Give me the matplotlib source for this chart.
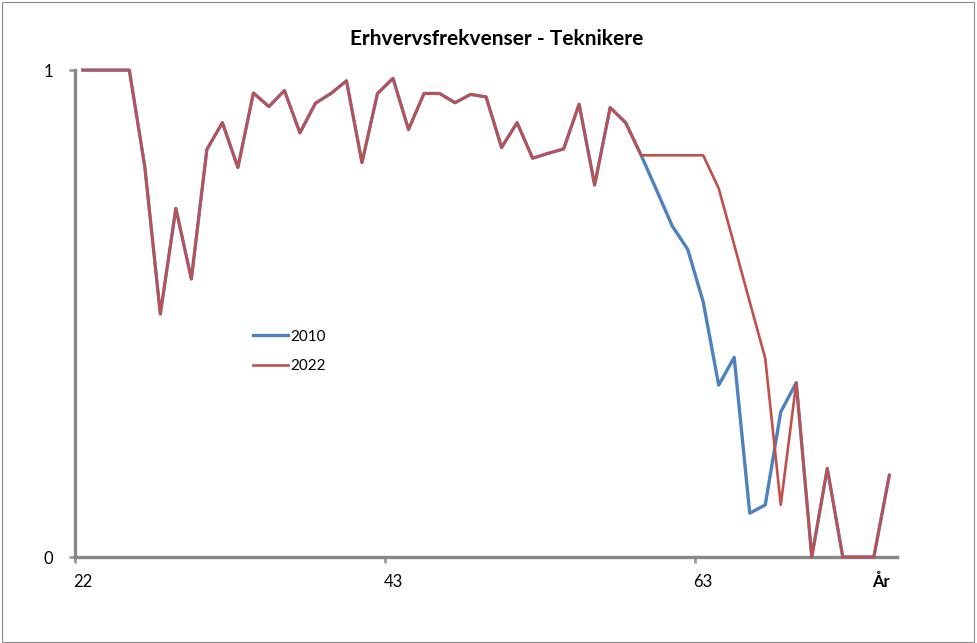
import matplotlib.pyplot as plt
from matplotlib.patches import Rectangle

plt.rcParams['font.family'] = ['Lato', 'DejaVu Sans']

# Alder-kategorier (53 stk), kun nogle har etiket
tick_pos = [0, 20, 40]
tick_labels = ['22', '43', '63']

y2010 = [1.0, 1.0, 1.0, 1.0, 0.801, 0.499, 0.716, 0.571, 0.837, 0.892,
         0.800, 0.953, 0.925, 0.958, 0.871, 0.932, 0.952, 0.978, 0.810, 0.952,
         0.983, 0.878, 0.952, 0.952, 0.933, 0.950, 0.945, 0.841, 0.892, 0.819,
         0.829, 0.838, 0.930, 0.764, 0.923, 0.892, 0.825, 0.753, 0.680, 0.632,
         0.524, 0.353, 0.410, 0.090, 0.107, 0.298, 0.358, 0.0, 0.182, 0.0,
         0.0, 0.0, 0.168]
y2022 = [1.0, 1.0, 1.0, 1.0, 0.801, 0.499, 0.716, 0.571, 0.837, 0.892,
         0.800, 0.953, 0.925, 0.958, 0.871, 0.932, 0.952, 0.978, 0.810, 0.952,
         0.983, 0.878, 0.952, 0.952, 0.933, 0.950, 0.945, 0.841, 0.892, 0.819,
         0.829, 0.838, 0.930, 0.764, 0.923, 0.892, 0.825, 0.825, 0.825, 0.825,
         0.825, 0.757, 0.641, 0.524, 0.408, 0.107, 0.358, 0.0, 0.182, 0.0,
         0.0, 0.0, 0.168]

x = list(range(len(y2010)))

fig = plt.figure(figsize=(9.77, 6.43), dpi=100)
ax = fig.add_axes([0.0768, 0.1337, 0.9182 - 0.0768, 0.891 - 0.1337])

# Ramme rundt om hele diagrammet
fig.patches.append(Rectangle((0.002, 0.002), 0.995, 0.995, transform=fig.transFigure,
                             fill=False, edgecolor='#8c8c8c', linewidth=0.8))

ax.plot(x, y2010, color='#4F81BD', linewidth=2.4, label='2010', clip_on=False, zorder=5)
ax.plot(x, y2022, color='#C0504D', linewidth=1.9, label='2022', clip_on=False, zorder=6)

ax.set_xlim(-0.5, len(x) - 0.5)
ax.set_ylim(0, 1)

# Akser i Excel-stil
for s in ['top', 'right']:
    ax.spines[s].set_visible(False)
for s in ['left', 'bottom']:
    ax.spines[s].set_color('#878787')
    ax.spines[s].set_linewidth(2.4)

ax.set_xticks([p - 0.5 for p in tick_pos])
ax.set_xticklabels([])
ax.set_xticks(tick_pos, minor=True)
ax.set_xticklabels(tick_labels, minor=True, fontsize=12)
ax.tick_params(axis='x', which='major', length=4, width=2, color='#9a9a9a', direction='out')
ax.tick_params(axis='x', which='minor', length=0, pad=12)

ax.set_yticks([0, 1])
ax.set_yticklabels(['0', '1'], fontsize=12)
ax.tick_params(axis='y', length=4, width=2, color='#9a9a9a', pad=12)

fig.text(0.508, 0.94, 'Erhvervsfrekvenser - Teknikere', fontsize=15, fontweight='bold',
         ha='center', va='center')
ax.text(0.98, -0.052, 'År', transform=ax.transAxes, fontsize=12, fontweight='bold',
        ha='center', va='center')

ax.legend(loc='upper left', bbox_to_anchor=(0.2, 0.495), frameon=False, fontsize=11,
          handlelength=2.3, handletextpad=0.1, labelspacing=1.0)

fig.savefig('out.png', dpi=100)
